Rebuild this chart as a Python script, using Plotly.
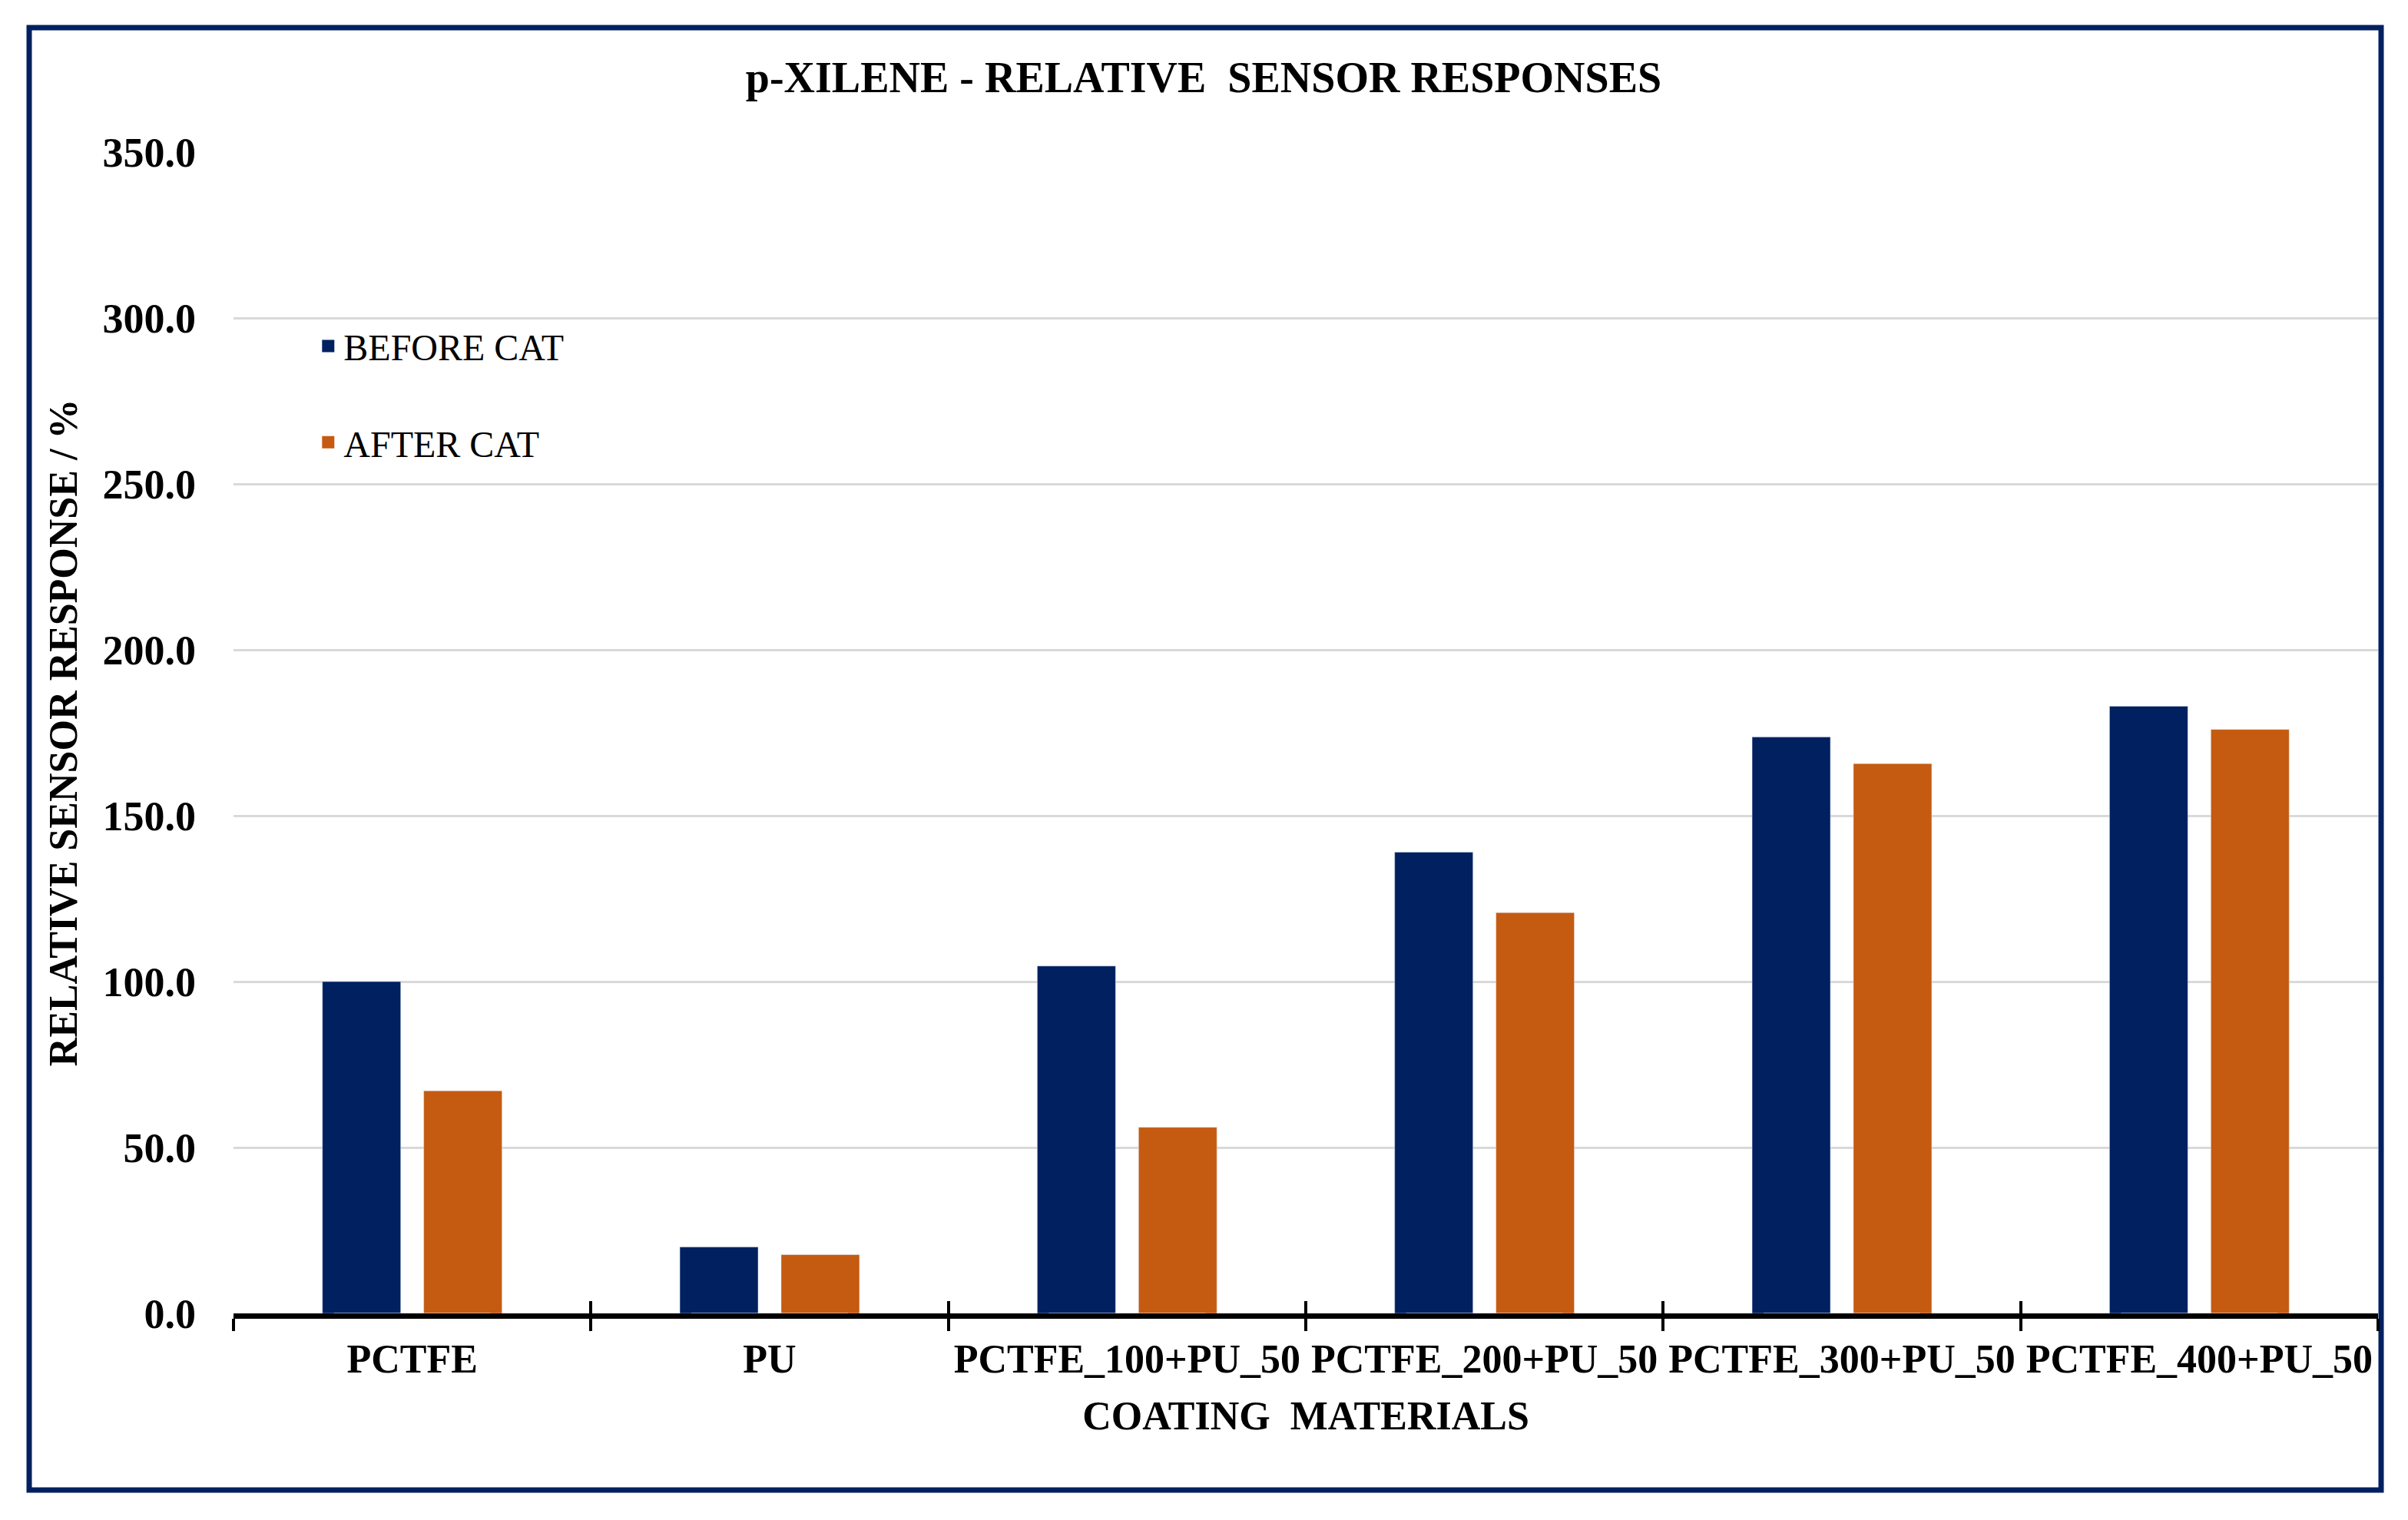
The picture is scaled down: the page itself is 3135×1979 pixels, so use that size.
import plotly.graph_objects as go

categories = ["PCTFE", "PU", "PCTFE_100+PU_50", "PCTFE_200+PU_50",
              "PCTFE_300+PU_50", "PCTFE_400+PU_50"]
before_cat = [100.0, 20.0, 104.7, 139.0, 173.7, 183.0]
after_cat = [67.1, 17.7, 56.1, 120.8, 165.7, 176.0]
y_ticks = [0, 50, 100, 150, 200, 250, 300, 350]
series_names = ["BEFORE CAT", "AFTER CAT"]

W, H = 3135, 1979
L, R, T, B = 296, 47, 190, 277
NAVY = "#00205F"
ORANGE = "#C55A11"
FONT = "Liberation Serif"

fig = go.Figure()
fig.add_trace(go.Bar(name=series_names[0], x=categories, y=before_cat,
                     marker=dict(color=NAVY), showlegend=False))
fig.add_trace(go.Bar(name=series_names[1], x=categories, y=after_cat,
                     marker=dict(color=ORANGE), showlegend=False))
# legend entries with larger square swatches
for nm, col, grp in [(series_names[0], NAVY, "a"), (series_names[1], ORANGE, "b")]:
    fig.add_trace(go.Scatter(name=nm, x=[None], y=[None], mode="markers",
                             marker=dict(symbol="square", size=22, color=col),
                             legendgroup=grp, hoverinfo="skip"))
# invisible trace to carry the overlay axis with inside ticks
fig.add_trace(go.Bar(x=categories, y=[0] * len(categories), xaxis="x2",
                     showlegend=False, hoverinfo="skip",
                     marker=dict(color="rgba(0,0,0,0)")))

pw, ph = W - L - R, H - T - B
def px_x(p):
    return (p - L) / pw
def px_y(p):
    return (H - B - p) / ph

fig.add_shape(type="rect", xref="paper", yref="paper",
              x0=px_x(30), x1=px_x(3092), y0=px_y(1932), y1=px_y(28),
              line=dict(color=NAVY, width=7), fillcolor="rgba(0,0,0,0)",
              layer="below")

fig.update_layout(
    width=W, height=H,
    margin=dict(l=L, r=R, t=T, b=B, autoexpand=False),
    paper_bgcolor="white", plot_bgcolor="white",
    barmode="group", bargap=0.433, bargroupgap=0.227,
    font=dict(family=FONT, color="black"),
    title=dict(text="p-XILENE - RELATIVE  SENSOR RESPONSES",
               x=1559 / W, xref="container", xanchor="center",
               y=1 - 92 / H, yref="container", yanchor="middle",
               font=dict(family=FONT, size=56, color="black", weight="bold")),
    legend=dict(x=0.037, y=0.858, xanchor="left", yanchor="top",
                font=dict(family=FONT, size=48, color="black"),
                traceorder="grouped", tracegroupgap=60,
                itemsizing="trace",
                bgcolor="rgba(0,0,0,0)"),
    xaxis=dict(type="category", showline=True, linecolor="black", linewidth=7,
               ticks="outside", tickson="boundaries", ticklen=16, tickwidth=4,
               tickcolor="black", tickangle=0, showgrid=False,
               ticklabelstandoff=8,
               tickfont=dict(family=FONT, size=52, color="black", weight="bold"),
               title=dict(text="COATING  MATERIALS", standoff=30,
                          font=dict(family=FONT, size=52, color="black",
                                    weight="bold")),
               automargin=False),
    xaxis2=dict(type="category", overlaying="x", matches="x", side="bottom",
                showline=False, ticks="inside", tickson="boundaries",
                ticklen=16, tickwidth=4, tickcolor="black",
                showticklabels=False, showgrid=False),
    yaxis=dict(range=[0, 350], tickvals=y_ticks, tickformat=".1f",
               showgrid=True, gridcolor="#D9D9D9", gridwidth=3,
               zeroline=False, showline=False, ticks="",
               ticklabelstandoff=48,
               tickfont=dict(family=FONT, size=54, color="black", weight="bold"),
               title=dict(text="RELATIVE SENSOR RESPONSE / %",
                          standoff=16,
                          font=dict(family=FONT, size=52, color="black",
                                    weight="bold")),
               automargin=False),
)

fig.write_html("out.html")
